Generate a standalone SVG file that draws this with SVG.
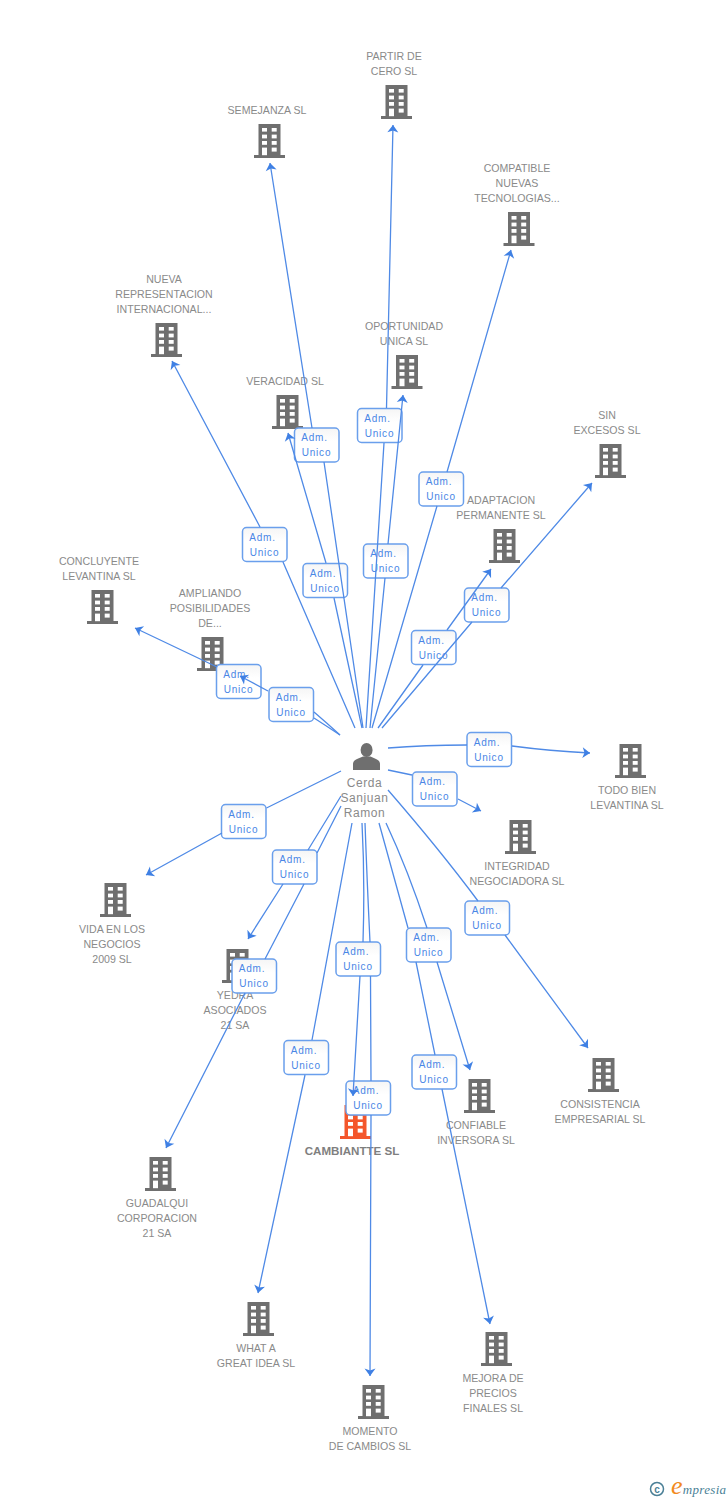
<svg xmlns="http://www.w3.org/2000/svg" width="728" height="1500" viewBox="0 0 728 1500">
<style>
text{font-family:"Liberation Sans",Arial,sans-serif}
.t{font-size:10.6px;fill:#8a8a8a;text-anchor:middle}
.n{font-size:12px;fill:#8a8a8a;text-anchor:middle;letter-spacing:.6px}
.b{font-size:11.600px;font-weight:bold;fill:#7f7f7f;text-anchor:middle}
.l{font-size:10px;fill:#4a86e6;text-anchor:middle;letter-spacing:.8px}
.box{fill:url(#g);stroke:#6a9fec;stroke-width:1.5}
.c{fill:none;stroke:#4f8ae6;stroke-width:1.3;marker-end:url(#a)}
.p{fill:none;stroke:#4f8ae6;stroke-width:1.3}
.bd{color:#6f6f6f}
.or{color:#f4562b}
</style>
<defs>
<linearGradient id="g" x1="0" y1="0" x2="0" y2="1"><stop offset="0" stop-color="#f5f5f5"/><stop offset=".4" stop-color="#fff"/></linearGradient>
<marker id="a" markerUnits="userSpaceOnUse" markerWidth="14" markerHeight="14" refX="9" refY="6" orient="auto" viewBox="0 0 14 12"><path d="M1.500,.5 L9,6 L1.500,11.500 L3.500,6 Z" fill="#3f80e4"/></marker>
<symbol id="bld" viewBox="0 0 31 34" width="31" height="34" overflow="visible">
<path fill="currentColor" d="M4.5,0H26.5V31H31V34H0V31H4.5Z"/>
<g fill="#fff"><rect x="8" y="4" width="5" height="3.6"/><rect x="17.7" y="4" width="5" height="3.6"/><rect x="8" y="10.6" width="5" height="3.8"/><rect x="17.7" y="10.6" width="5" height="3.8"/><rect x="8" y="17" width="5" height="3.8"/><rect x="17.7" y="17" width="5" height="3.8"/><rect x="8" y="23.6" width="5" height="7.6"/><rect x="17.7" y="23.6" width="5" height="4"/></g>
</symbol>
</defs>
<rect width="728" height="1500" fill="#fff"/>

<g id="node-partir" class="bd"><use href="#bld" x="381" y="85"/><text class="t" x="394" y="60">PARTIR DE</text><text class="t" x="394" y="75">CERO SL</text></g>
<g id="node-semejanza" class="bd"><use href="#bld" x="254" y="124"/><text class="t" x="267" y="114">SEMEJANZA SL</text></g>
<g id="node-compatible" class="bd"><use href="#bld" x="503.5" y="212"/><text class="t" x="517" y="172">COMPATIBLE</text><text class="t" x="517" y="187">NUEVAS</text><text class="t" x="517" y="202">TECNOLOGIAS...</text></g>
<g id="node-nueva" class="bd"><use href="#bld" x="151" y="323"/><text class="t" x="164" y="283">NUEVA</text><text class="t" x="164" y="298">REPRESENTACION</text><text class="t" x="164" y="313">INTERNACIONAL...</text></g>
<g id="node-oportunidad" class="bd"><use href="#bld" x="391.5" y="355"/><text class="t" x="404" y="330">OPORTUNIDAD</text><text class="t" x="404" y="345">UNICA SL</text></g>
<g id="node-veracidad" class="bd"><use href="#bld" x="272" y="395"/><text class="t" x="285" y="385">VERACIDAD SL</text></g>
<g id="node-sin" class="bd"><use href="#bld" x="595" y="444"/><text class="t" x="607" y="419">SIN</text><text class="t" x="607" y="434">EXCESOS SL</text></g>
<g id="node-adaptacion" class="bd"><use href="#bld" x="489" y="529"/><text class="t" x="501" y="504">ADAPTACION</text><text class="t" x="501" y="519">PERMANENTE SL</text></g>
<g id="node-concluyente" class="bd"><use href="#bld" x="87" y="590"/><text class="t" x="99" y="565">CONCLUYENTE</text><text class="t" x="99" y="580">LEVANTINA SL</text></g>
<g id="node-ampliando" class="bd"><use href="#bld" x="197" y="637"/><text class="t" x="210" y="597">AMPLIANDO</text><text class="t" x="210" y="612">POSIBILIDADES</text><text class="t" x="210" y="627">DE...</text></g>
<g id="node-todo" class="bd"><use href="#bld" x="615" y="744"/><text class="t" x="627" y="794">TODO BIEN</text><text class="t" x="627" y="809">LEVANTINA SL</text></g>
<g id="node-integridad" class="bd"><use href="#bld" x="505" y="820"/><text class="t" x="517" y="870">INTEGRIDAD</text><text class="t" x="517" y="885">NEGOCIADORA SL</text></g>
<g id="node-vida" class="bd"><use href="#bld" x="100" y="883"/><text class="t" x="112" y="933">VIDA EN LOS</text><text class="t" x="112" y="948">NEGOCIOS</text><text class="t" x="112" y="963">2009 SL</text></g>
<g id="node-yedra" class="bd"><use href="#bld" x="222" y="949"/><text class="t" x="235" y="999">YEDRA</text><text class="t" x="235" y="1014">ASOCIADOS</text><text class="t" x="235" y="1029">21 SA</text></g>
<g id="node-consistencia" class="bd"><use href="#bld" x="588" y="1058"/><text class="t" x="600" y="1108">CONSISTENCIA</text><text class="t" x="600" y="1123">EMPRESARIAL SL</text></g>
<g id="node-confiable" class="bd"><use href="#bld" x="464" y="1079"/><text class="t" x="476" y="1129">CONFIABLE</text><text class="t" x="476" y="1144">INVERSORA SL</text></g>
<g id="node-cambiantte" class="or"><use href="#bld" x="340" y="1105"/><text class="b" x="352" y="1155">CAMBIANTTE SL</text></g>
<g id="node-guadalqui" class="bd"><use href="#bld" x="145" y="1157"/><text class="t" x="157" y="1207">GUADALQUI</text><text class="t" x="157" y="1222">CORPORACION</text><text class="t" x="157" y="1237">21 SA</text></g>
<g id="node-what" class="bd"><use href="#bld" x="243" y="1302"/><text class="t" x="256" y="1352">WHAT A</text><text class="t" x="256" y="1367">GREAT IDEA SL</text></g>
<g id="node-mejora" class="bd"><use href="#bld" x="481" y="1332"/><text class="t" x="493" y="1382">MEJORA DE</text><text class="t" x="493" y="1397">PRECIOS</text><text class="t" x="493" y="1412">FINALES SL</text></g>
<g id="node-momento" class="bd"><use href="#bld" x="358" y="1385"/><text class="t" x="370" y="1435">MOMENTO</text><text class="t" x="370" y="1450">DE CAMBIOS SL</text></g>

<g id="node-person">
<ellipse cx="366.6" cy="750" rx="6" ry="7" fill="#6f6f6f"/>
<path fill="#6f6f6f" d="M353,770V764Q353,760.500 357,759L363,756.500H370.500L376,759Q380,760.500 380,764V770Z"/>
<text class="n" x="364.500" y="787">Cerda</text><text class="n" x="364.500" y="802">Sanjuan</text><text class="n" x="364.500" y="817">Ramon</text>
</g>

<g id="labels">
<g id="lb-semejanza" transform="translate(294.500,428)"><rect class="box" width="44.500" height="34" rx="4"/><text class="l" x="20" y="13">Adm.</text><text class="l" x="22" y="28">Unico</text></g>
<g id="lb-partir" transform="translate(357.500,408.500)"><rect class="box" width="44.500" height="34" rx="4"/><text class="l" x="20" y="13">Adm.</text><text class="l" x="22" y="28">Unico</text></g>
<g id="lb-compatible" transform="translate(419,472)"><rect class="box" width="44.500" height="34" rx="4"/><text class="l" x="20" y="13">Adm.</text><text class="l" x="22" y="28">Unico</text></g>
<g id="lb-nueva" transform="translate(242.500,527.500)"><rect class="box" width="44.500" height="34" rx="4"/><text class="l" x="20" y="13">Adm.</text><text class="l" x="22" y="28">Unico</text></g>
<g id="lb-oportunidad" transform="translate(363.500,544)"><rect class="box" width="44.500" height="34" rx="4"/><text class="l" x="20" y="13">Adm.</text><text class="l" x="22" y="28">Unico</text></g>
<g id="lb-veracidad" transform="translate(303,563.500)"><rect class="box" width="44.500" height="34" rx="4"/><text class="l" x="20" y="13">Adm.</text><text class="l" x="22" y="28">Unico</text></g>
<g id="lb-sin" transform="translate(464.500,588)"><rect class="box" width="44.500" height="34" rx="4"/><text class="l" x="20" y="13">Adm.</text><text class="l" x="22" y="28">Unico</text></g>
<g id="lb-adaptacion" transform="translate(411.500,630.500)"><rect class="box" width="44.500" height="34" rx="4"/><text class="l" x="20" y="13">Adm.</text><text class="l" x="22" y="28">Unico</text></g>
<g id="lb-concluyente" transform="translate(216.500,664.500)"><rect class="box" width="44.500" height="34" rx="4"/><text class="l" x="20" y="13">Adm.</text><text class="l" x="22" y="28">Unico</text></g>
<g id="lb-ampliando" transform="translate(269,687.500)"><rect class="box" width="44.500" height="34" rx="4"/><text class="l" x="20" y="13">Adm.</text><text class="l" x="22" y="28">Unico</text></g>
<g id="lb-todo" transform="translate(467,732.500)"><rect class="box" width="44.500" height="34" rx="4"/><text class="l" x="20" y="13">Adm.</text><text class="l" x="22" y="28">Unico</text></g>
<g id="lb-integridad" transform="translate(412.500,772)"><rect class="box" width="44.500" height="34" rx="4"/><text class="l" x="20" y="13">Adm.</text><text class="l" x="22" y="28">Unico</text></g>
<g id="lb-vida" transform="translate(221.500,804.500)"><rect class="box" width="44.500" height="34" rx="4"/><text class="l" x="20" y="13">Adm.</text><text class="l" x="22" y="28">Unico</text></g>
<g id="lb-yedra" transform="translate(272.500,850)"><rect class="box" width="44.500" height="34" rx="4"/><text class="l" x="20" y="13">Adm.</text><text class="l" x="22" y="28">Unico</text></g>
<g id="lb-consistencia" transform="translate(465,901)"><rect class="box" width="44.500" height="34" rx="4"/><text class="l" x="20" y="13">Adm.</text><text class="l" x="22" y="28">Unico</text></g>
<g id="lb-confiable" transform="translate(406.500,928)"><rect class="box" width="44.500" height="34" rx="4"/><text class="l" x="20" y="13">Adm.</text><text class="l" x="22" y="28">Unico</text></g>
<g id="lb-cambiantte" transform="translate(336,942)"><rect class="box" width="44.500" height="34" rx="4"/><text class="l" x="20" y="13">Adm.</text><text class="l" x="22" y="28">Unico</text></g>
<g id="lb-guadalqui" transform="translate(232,959)"><rect class="box" width="44.500" height="34" rx="4"/><text class="l" x="20" y="13">Adm.</text><text class="l" x="22" y="28">Unico</text></g>
<g id="lb-what" transform="translate(284,1040.500)"><rect class="box" width="44.500" height="34" rx="4"/><text class="l" x="20" y="13">Adm.</text><text class="l" x="22" y="28">Unico</text></g>
<g id="lb-mejora" transform="translate(412,1055)"><rect class="box" width="44.500" height="34" rx="4"/><text class="l" x="20" y="13">Adm.</text><text class="l" x="22" y="28">Unico</text></g>
<g id="lb-momento" transform="translate(346,1081)"><rect class="box" width="44.500" height="34" rx="4"/><text class="l" x="20" y="13">Adm.</text><text class="l" x="22" y="28">Unico</text></g>
</g>

<g id="connectors">
<path class="c" d="M363,728L324,462M312,428L270,163"/>
<path class="c" d="M366,728Q374,610 384,443M386.500,408L393,125"/>
<path class="c" d="M372,728Q395,650 437,506M447,472L511,250"/>
<path class="c" d="M355,728L283,562M260,527L172,361"/>
<path class="c" d="M370,728L385,578M388,544L403,395"/>
<path class="c" d="M362,728L334,598M326,563L288,433"/>
<path class="c" d="M382,728L472,622M501,588L592,483"/>
<path class="c" d="M378,728L423,665M447,630L491,569"/>
<path class="p" d="M340,735Q328,724 314,712"/>
<path class="c" d="M340,735Q328,727 314,718M217,667L135,628"/>
<path class="c" d="M268,691L240,676"/>
<path class="c" d="M388,748Q425,745 467,745M512,746Q550,751 590,753"/>
<path class="c" d="M388,770L412,775M458,799L481,811"/>
<path class="c" d="M388,790Q440,850 478,901M505,935L588,1048"/>
<path class="c" d="M341,771L266.500,808M222,833L146,875"/>
<path class="c" d="M341,796L308,850M283,884L248,939"/>
<path class="c" d="M341,806L317,853M304,884L265,959M245,993L166,1148"/>
<path class="c" d="M352,823L312,1040M305,1075L258,1293"/>
<path class="c" d="M362,823Q365,880 363,942M360,976Q356,1040 353,1096"/>
<path class="c" d="M365,823Q367,880 370,942M370.500,976L371,1081M371,1115L370,1376"/>
<path class="c" d="M386,823Q408,870 427,928M437,962L470,1070"/>
<path class="c" d="M379,823L408,928M416,962L435,1055M442,1089L490,1324"/>
</g>

<g id="footer">
<circle cx="657" cy="1489" r="6.500" fill="none" stroke="#4a7f96" stroke-width="1.500"/>
<text x="657" y="1492.500" font-size="10" fill="#4a7f96" text-anchor="middle" font-weight="bold">c</text>
<text x="671" y="1494" style="font-family:'Liberation Serif',serif" font-style="italic" fill="#4a7f96" font-size="13" letter-spacing=".3"><tspan font-size="26" fill="#f28a1e">e</tspan>mpresia</text>
</g>
</svg>
